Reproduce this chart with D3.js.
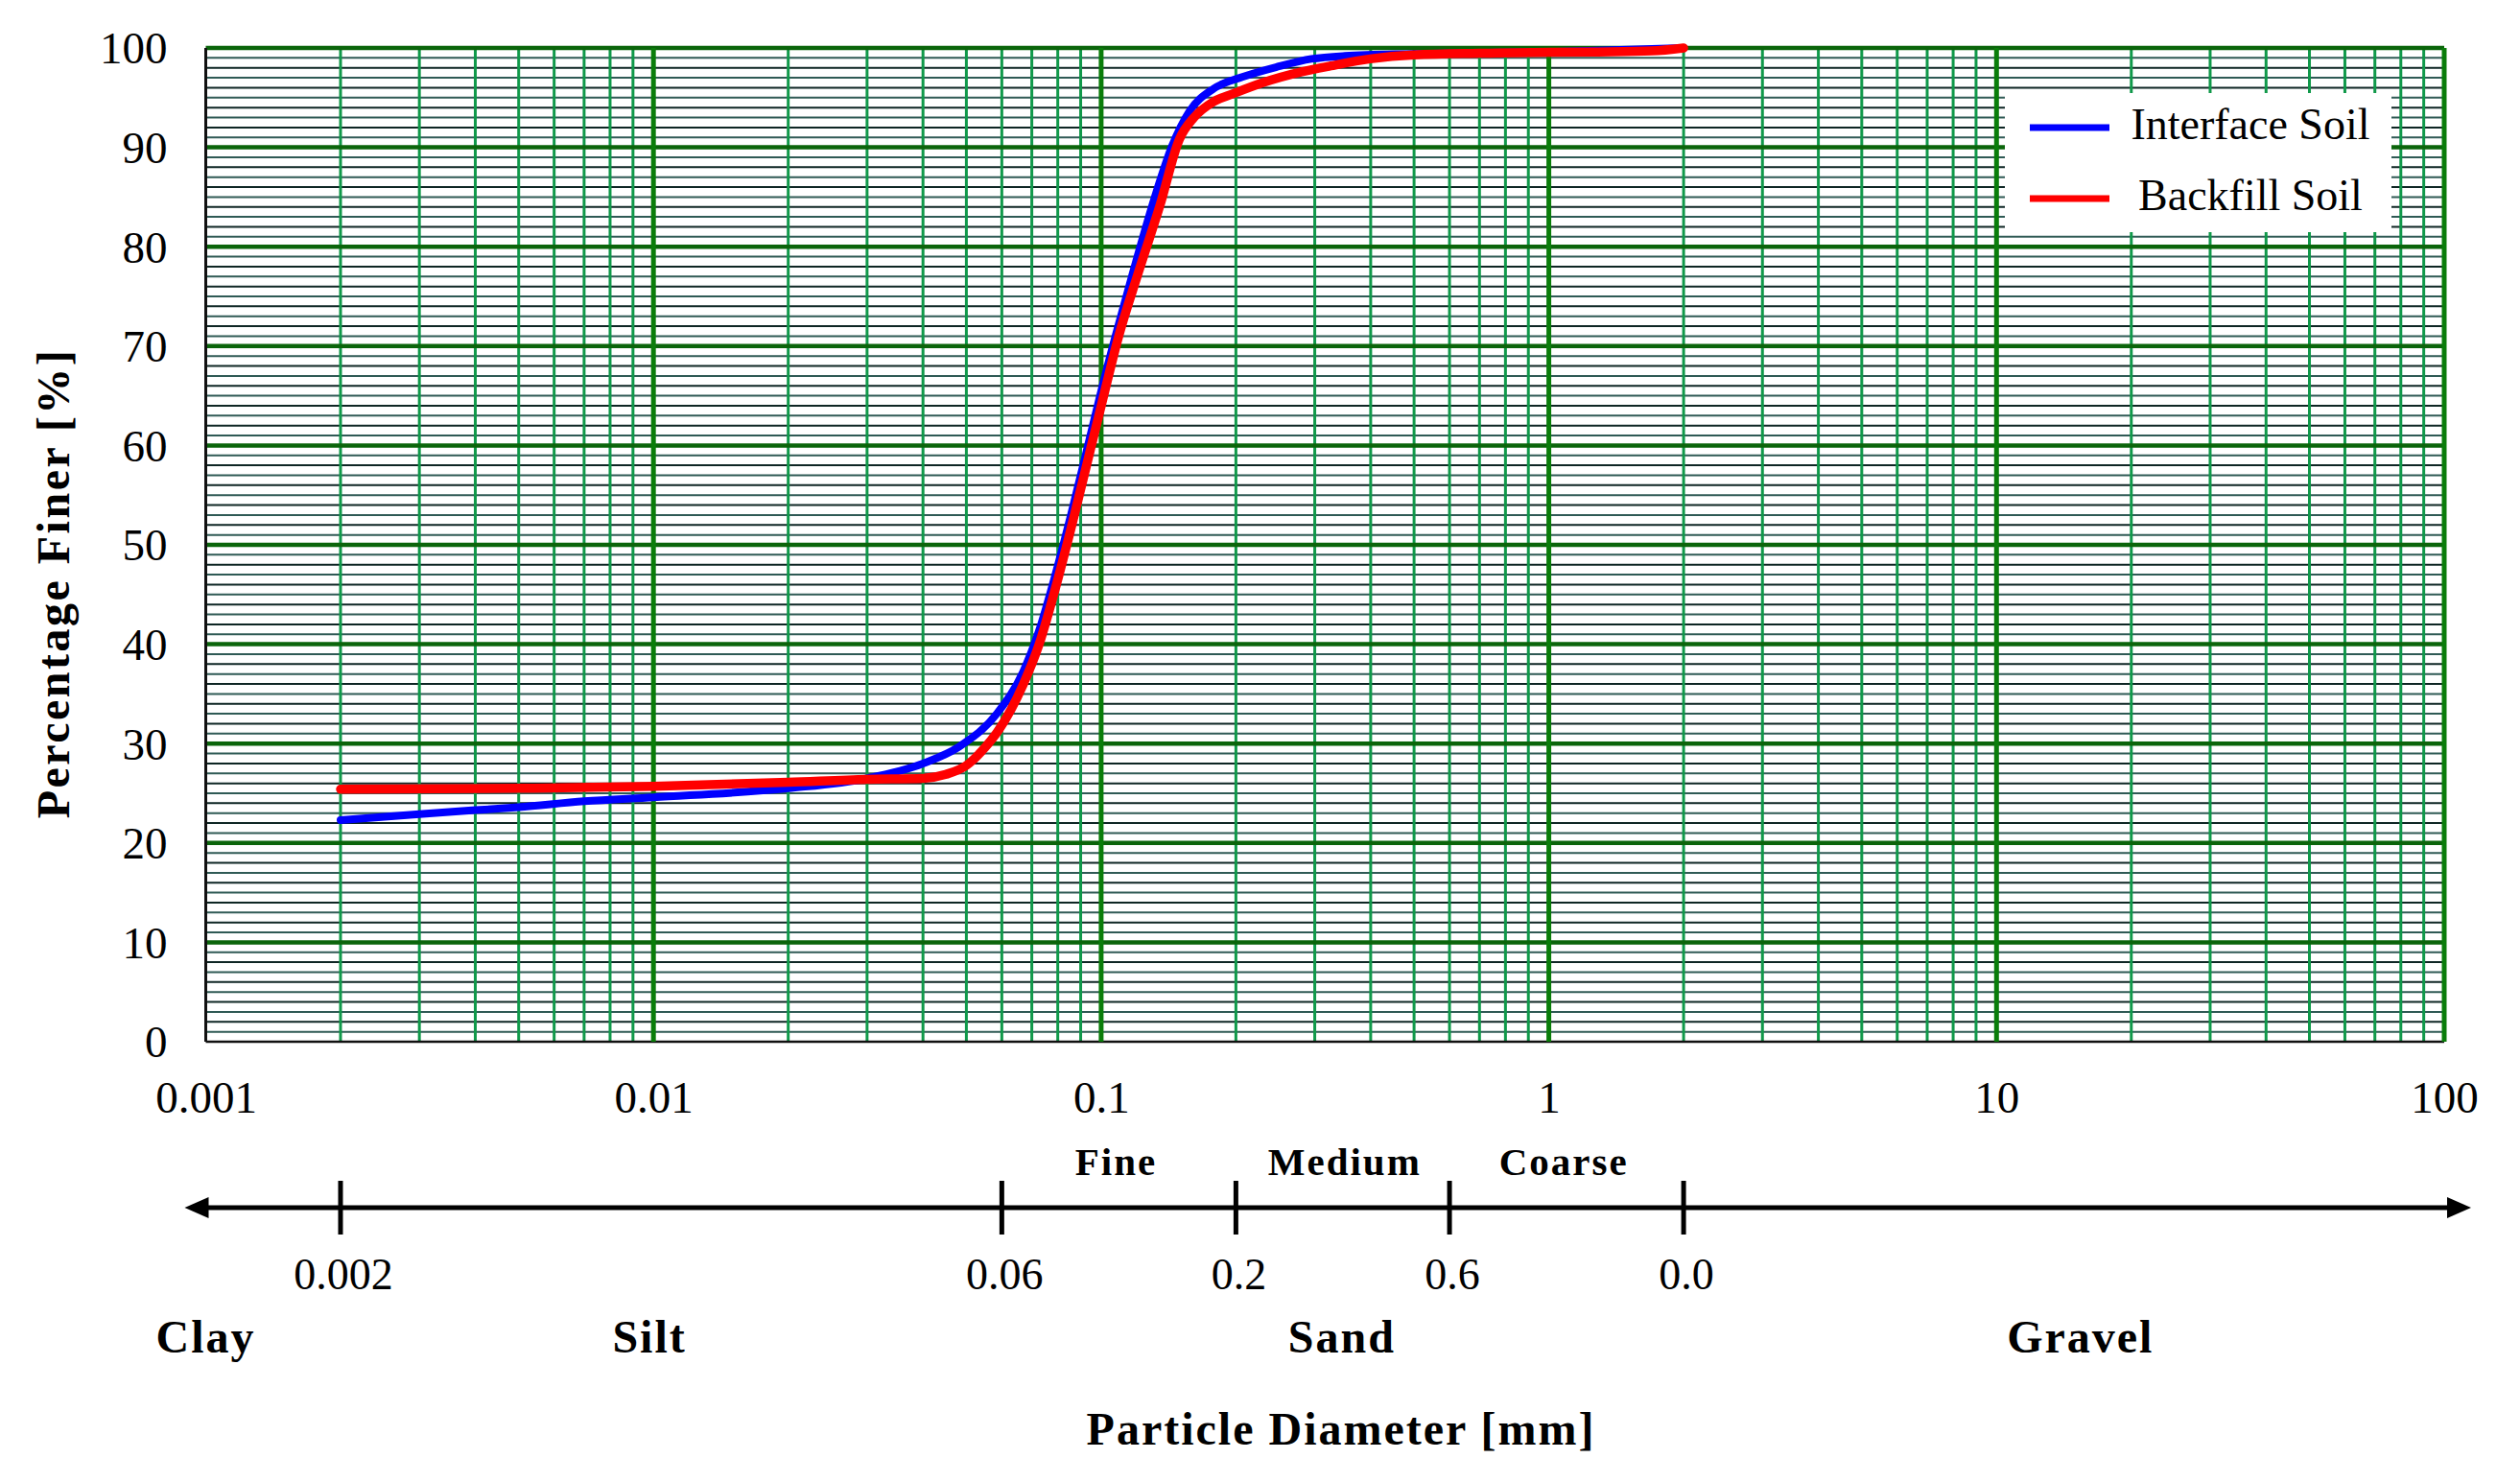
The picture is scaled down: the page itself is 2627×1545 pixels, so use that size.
<!DOCTYPE html>
<html>
<head>
<meta charset="utf-8">
<script src="https://cdn.jsdelivr.net/npm/d3@7"></script>
<style>
  body { margin: 0; background: #fff; }
  text { font-family: "Liberation Serif", "Times New Roman", serif; fill: #000; }
</style>
</head>
<body>
<svg id="chart"></svg>
<script>
var width = 2627;
var height = 1545;

// axes
var xTickValues = [0.001, 0.01, 0.1, 1, 10, 100];
var xTickLabels = ["0.001", "0.01", "0.1", "1", "10", "100"];
var yTickValues = [0, 10, 20, 30, 40, 50, 60, 70, 80, 90, 100];

// grading curves (size in mm, percent finer)
var interfaceSize    = [0.002, 0.003, 0.004, 0.005, 0.007, 0.01, 0.02, 0.03, 0.04, 0.0482, 0.0587, 0.0669, 0.0727, 0.0789, 0.0857, 0.093, 0.0993, 0.1078, 0.1171, 0.1318, 0.1439, 0.1573, 0.1783, 0.2074, 0.2473, 0.2949, 0.35, 0.5, 1.0, 2.0];
var interfacePassing = [22.3, 22.9, 23.3, 23.6, 24.2, 24.6, 25.5, 26.5, 28.0, 29.7, 33.1, 37.2, 41.4, 46.9, 53.1, 59.6, 64.9, 71.1, 77.0, 85.0, 90.1, 93.6, 95.9, 97.1, 98.1, 98.9, 99.2, 99.4, 99.6, 100];

var backfillSize    = [0.002, 0.005, 0.01, 0.02, 0.03, 0.04, 0.045, 0.05, 0.055, 0.0587, 0.0669, 0.0727, 0.0789, 0.0857, 0.093, 0.0993, 0.1096, 0.1209, 0.1352, 0.1495, 0.1612, 0.1783, 0.1972, 0.2293, 0.2804, 0.326, 0.399, 0.5, 0.767, 1.27, 1.7, 2.0];
var backfillPassing = [25.4, 25.5, 25.7, 26.1, 26.4, 26.5, 26.9, 27.8, 29.6, 31.2, 35.9, 40.0, 45.5, 51.7, 58.2, 63.4, 71.1, 77.3, 84.1, 90.8, 93.0, 94.6, 95.4, 96.5, 97.6, 98.2, 98.9, 99.3, 99.5, 99.6, 99.7, 100];

var seriesNames = ["Interface Soil", "Backfill Soil"];
var seriesColors = ["#0000ff", "#ff0000"];

// soil classification strip
var boundaryValues = [0.002, 0.06, 0.2, 0.6, 2];
var boundaryLabels = ["0.002", "0.06", "0.2", "0.6", "0.0"];
var sandSubNames = ["Fine", "Medium", "Coarse"];
var sandSubAt = [0.108, 0.35, 1.08];
var classNames = ["Clay", "Silt", "Sand", "Gravel"];
var classAt = [0.001, 0.0098, 0.345, 15.4];

var plot = { left: 214.5, right: 2548, top: 50, bottom: 1086 };

var svg = d3.select("#chart")
    .attr("width", width)
    .attr("height", height);

var x = d3.scaleLog()
    .domain([0.001, 100])
    .range([plot.left, plot.right]);

var y = d3.scaleLinear()
    .domain([0, 100])
    .range([plot.bottom, plot.top]);

var isDecade = d => Math.abs(Math.log10(d) - Math.round(Math.log10(d))) < 1e-9;

// ---- grid ----
var grid = svg.append("g");

grid.selectAll(".hminor")
    .data(d3.range(1, 100).filter(d => d % 10 !== 0))
    .enter()
    .append("line")
      .attr("x1", plot.left)
      .attr("x2", plot.right)
      .attr("y1", d => y(d))
      .attr("y2", d => y(d))
      .attr("stroke", d => d % 2 ? "#2f5a55" : "#0e2624")
      .attr("stroke-width", 2);

grid.selectAll(".vminor")
    .data(x.ticks().filter(d => !isDecade(d)))
    .enter()
    .append("line")
      .attr("x1", d => x(d))
      .attr("x2", d => x(d))
      .attr("y1", plot.top)
      .attr("y2", plot.bottom)
      .attr("stroke", "#10994a")
      .attr("stroke-width", 3);

grid.selectAll(".hmajor")
    .data(yTickValues.filter(d => d > 0))
    .enter()
    .append("line")
      .attr("x1", plot.left)
      .attr("x2", plot.right)
      .attr("y1", d => y(d))
      .attr("y2", d => y(d))
      .attr("stroke", "#0b650b")
      .attr("stroke-width", 4.5);

grid.append("line")
    .attr("x1", plot.left).attr("x2", plot.right)
    .attr("y1", y(0)).attr("y2", y(0))
    .attr("stroke", "#111").attr("stroke-width", 2.5);

grid.selectAll(".vmajor")
    .data(xTickValues.filter(d => d > 0.001))
    .enter()
    .append("line")
      .attr("x1", d => x(d))
      .attr("x2", d => x(d))
      .attr("y1", plot.top)
      .attr("y2", plot.bottom)
      .attr("stroke", "#0a7d0a")
      .attr("stroke-width", 5);

grid.append("line")
    .attr("x1", x(0.001)).attr("x2", x(0.001))
    .attr("y1", plot.top).attr("y2", plot.bottom)
    .attr("stroke", "#111").attr("stroke-width", 3);

// ---- axes labels ----
var yAxis = svg.append("g")
    .attr("transform", `translate(${plot.left},0)`)
    .call(d3.axisLeft(y).tickValues(yTickValues).tickSize(0).tickPadding(40));
yAxis.select(".domain").remove();
yAxis.attr("font-size", 47).attr("font-family", null);
yAxis.selectAll("text").attr("dy", "0.34em");

var xAxis = svg.append("g")
    .attr("transform", `translate(0,${plot.bottom})`)
    .call(d3.axisBottom(x).tickValues(xTickValues)
        .tickFormat((d, i) => xTickLabels[i]).tickSize(0));
xAxis.select(".domain").remove();
xAxis.attr("font-size", 47).attr("font-family", null);
xAxis.selectAll("text").attr("y", 74).attr("dy", null);

svg.append("text")
    .attr("transform", `translate(72,608) rotate(-90)`)
    .attr("text-anchor", "middle")
    .attr("font-size", 48)
    .attr("font-weight", "bold")
    .attr("letter-spacing", 2.5)
    .text("Percentage Finer [%]");

// ---- curves ----
var line = d3.line()
    .x(d => x(d[0]))
    .y(d => y(d[1]))
    .curve(d3.curveMonotoneX);

var series = [
  { name: seriesNames[0], color: seriesColors[0], width: 8, values: d3.zip(interfaceSize, interfacePassing) },
  { name: seriesNames[1], color: seriesColors[1], width: 9.5, values: d3.zip(backfillSize, backfillPassing) }
];

svg.selectAll(".curve")
    .data(series)
    .enter()
    .append("path")
      .attr("d", d => line(d.values))
      .attr("fill", "none")
      .attr("stroke", d => d.color)
      .attr("stroke-width", d => d.width)
      .attr("stroke-linecap", "round")
      .attr("stroke-linejoin", "round");

// ---- legend ----
var legend = svg.append("g");
legend.append("rect")
    .attr("x", 2090).attr("y", 97)
    .attr("width", 403).attr("height", 145)
    .attr("fill", "#fff");

var items = legend.selectAll(".item")
    .data(series)
    .enter()
    .append("g")
      .attr("transform", (d, i) => `translate(0,${133 + i * 74})`);

items.append("line")
    .attr("x1", 2116).attr("x2", 2199)
    .attr("stroke", d => d.color)
    .attr("stroke-width", 7);

items.append("text")
    .attr("x", 2346)
    .attr("y", 12)
    .attr("text-anchor", "middle")
    .attr("font-size", 46)
    .text(d => d.name);

// ---- classification strip ----
var strip = svg.append("g");
var stripY = 1259;

strip.append("line")
    .attr("x1", x(0.001) - 5).attr("x2", x(100) + 5)
    .attr("y1", stripY).attr("y2", stripY)
    .attr("stroke", "#000").attr("stroke-width", 5);

strip.append("path")
    .attr("d", `M${x(0.001) - 22},${stripY} l25,-11 l0,22 z`)
    .attr("fill", "#000");
strip.append("path")
    .attr("d", `M${x(100) + 28},${stripY} l-25,-11 l0,22 z`)
    .attr("fill", "#000");

strip.selectAll(".bound")
    .data(boundaryValues)
    .enter()
    .append("line")
      .attr("x1", d => x(d)).attr("x2", d => x(d))
      .attr("y1", stripY - 28).attr("y2", stripY + 28)
      .attr("stroke", "#000").attr("stroke-width", 5);

strip.selectAll(".boundLabel")
    .data(boundaryValues)
    .enter()
    .append("text")
      .attr("x", d => x(d) + 3)
      .attr("y", 1344)
      .attr("text-anchor", "middle")
      .attr("font-size", 46)
      .text((d, i) => boundaryLabels[i]);

strip.selectAll(".sub")
    .data(sandSubAt)
    .enter()
    .append("text")
      .attr("x", d => x(d))
      .attr("y", 1225)
      .attr("text-anchor", "middle")
      .attr("font-size", 41)
      .attr("font-weight", "bold")
      .attr("letter-spacing", 2)
      .text((d, i) => sandSubNames[i]);

strip.selectAll(".cls")
    .data(classAt)
    .enter()
    .append("text")
      .attr("x", d => x(d))
      .attr("y", 1410)
      .attr("text-anchor", "middle")
      .attr("font-size", 48)
      .attr("font-weight", "bold")
      .attr("letter-spacing", 2)
      .text((d, i) => classNames[i]);

svg.append("text")
    .attr("x", 1398)
    .attr("y", 1506)
    .attr("text-anchor", "middle")
    .attr("font-size", 48)
    .attr("font-weight", "bold")
    .attr("letter-spacing", 2)
    .text("Particle Diameter [mm]");
</script>
</body>
</html>
